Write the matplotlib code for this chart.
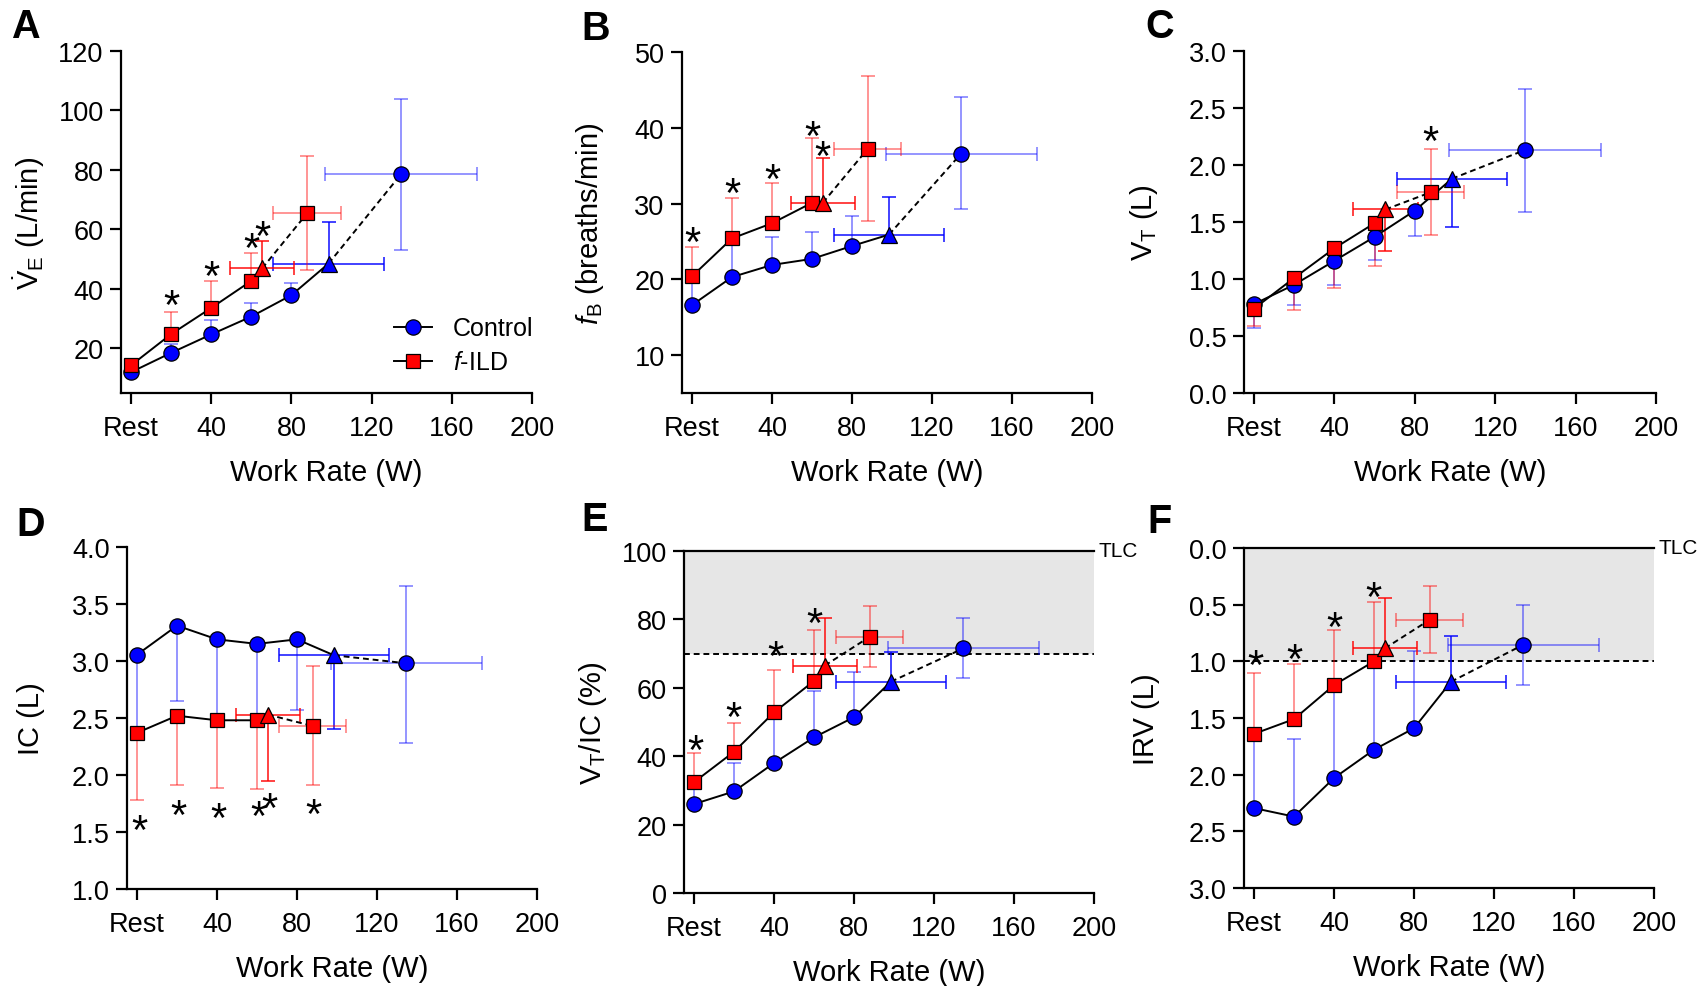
import matplotlib
matplotlib.use("Agg")
import numpy as np
import matplotlib.pyplot as plt
from matplotlib.lines import Line2D
from matplotlib.ticker import FormatStrFormatter

plt.rcParams["font.family"] = ["Liberation Sans", "DejaVu Sans"]
plt.rcParams["mathtext.fontset"] = "custom"
plt.rcParams["mathtext.rm"] = "Liberation Sans"
plt.rcParams["mathtext.it"] = "Liberation Sans:italic"

BLUE = "#0000ff"
RED = "#ff0000"

# work rate positions (W), Rest = 0
ctrl_x = [0, 20, 40, 60, 80]
ild_x = [0, 20, 40, 60]
ctrl_tri_x, ctrl_tri_xerr = 98.5, 27.5
ctrl_peak_x, ctrl_peak_xerr = 134.6, 37.8
ild_tri_x, ild_tri_xerr = 65.4, 16.0
ild_peak_x, ild_peak_xerr = 87.8, 16.9

xtick_vals = [0, 40, 80, 120, 160, 200]
xtick_labels = ["Rest", "40", "80", "120", "160", "200"]

# each series: values, error-bar end (one sided), iso-time triangle (value, end),
# peak (value, low, high)
# A - VE
ve_ctrl = [12.0, 18.5, 24.7, 30.7, 37.9]
ve_ctrl_cap = [13.5, 21.5, 29.5, 35.2, 42.0]
ve_ctrl_tri = (48.5, 62.6)
ve_ctrl_peak = (78.5, 53.1, 103.8)
ve_ild = [14.3, 24.8, 33.6, 42.7]
ve_ild_cap = [16.0, 32.4, 42.5, 52.1]
ve_ild_tri = (46.9, 56.0)
ve_ild_peak = (65.4, 46.2, 84.6)
ve_star_x = [20, 40, 60, 65.4]
ve_star_y = [38.2, 47.8, 57.3, 61.5]

# B - fB
fb_ctrl = [16.6, 20.3, 21.9, 22.7, 24.4]
fb_ctrl_cap = [20.0, 24.5, 25.6, 26.3, 28.4]
fb_ctrl_tri = (25.9, 30.8)
fb_ctrl_peak = (36.6, 29.3, 44.1)
fb_ild = [20.4, 25.4, 27.4, 30.1]
fb_ild_cap = [24.3, 30.7, 32.7, 38.6]
fb_ild_tri = (30.1, 36.0)
fb_ild_peak = (37.2, 27.7, 46.8)
fb_star_x = [0, 20, 40, 60, 65.4]
fb_star_y = [26.3, 32.8, 34.7, 40.3, 37.7]

# C - VT
vt_ctrl = [0.78, 0.95, 1.16, 1.37, 1.60]
vt_ctrl_cap = [0.57, 0.77, 0.95, 1.17, 1.38]
vt_ctrl_tri = (1.88, 1.46)
vt_ctrl_peak = (2.13, 1.59, 2.67)
vt_ild = [0.74, 1.01, 1.27, 1.49]
vt_ild_cap = [0.59, 0.73, 0.92, 1.11]
vt_ild_tri = (1.61, 1.25)
vt_ild_peak = (1.76, 1.39, 2.14)
vt_star_x = [87.8]
vt_star_y = [2.30]

# D - IC
ic_ctrl = [3.055, 3.31, 3.19, 3.15, 3.19]
ic_ctrl_cap = [2.40, 2.645, 2.50, 2.50, 2.57]
ic_ctrl_tri = (3.05, 2.405)
ic_ctrl_peak = (2.98, 2.28, 3.66)
ic_ild = [2.37, 2.52, 2.48, 2.48]
ic_ild_cap = [1.785, 1.91, 1.89, 1.88]
ic_ild_tri = (2.53, 1.95)
ic_ild_peak = (2.43, 1.91, 2.96)
ic_star_x = [1, 20.6, 40.6, 60.6, 66, 88.3]
ic_star_y = [1.615, 1.745, 1.72, 1.73, 1.80, 1.75]

# E - VT/IC
ratio_ctrl = [26.0, 29.7, 38.0, 45.5, 51.4]
ratio_ctrl_cap = [31.0, 38.0, 51.0, 59.2, 64.7]
ratio_ctrl_tri = (61.8, 70.6)
ratio_ctrl_peak = (71.5, 62.8, 80.4)
ratio_ild = [32.4, 41.3, 52.8, 62.0]
ratio_ild_cap = [40.8, 49.7, 65.3, 77.0]
ratio_ild_tri = (66.5, 80.3)
ratio_ild_peak = (74.9, 66.1, 83.8)
ratio_star_x = [0.7, 19.8, 40.8, 60]
ratio_star_y = [45.0, 54.6, 72.3, 82.1]

# F - IRV
irv_ctrl = [2.295, 2.37, 2.03, 1.78, 1.59]
irv_ctrl_cap = [1.66, 1.685, 1.25, 1.02, 0.913]
irv_ctrl_tri = (1.18, 0.775)
irv_ctrl_peak = (0.854, 0.50, 1.206)
irv_ild = [1.64, 1.51, 1.21, 1.00]
irv_ild_cap = [1.10, 1.02, 0.72, 0.475]
irv_ild_tri = (0.886, 0.44)
irv_ild_peak = (0.634, 0.335, 0.93)
irv_star_x = [0.5, 20, 40, 59.7]
irv_star_y = [0.94, 0.886, 0.60, 0.335]

LABEL_FS = 21
TICK_FS = 19.5


def vbar(ax, x, y0, y1, color, alpha):
    ax.vlines(x, y0, y1, color=color, alpha=alpha, lw=1.3, zorder=1)
    ax.plot(np.atleast_1d(x), np.atleast_1d(y1), ls="none", marker="_", ms=9.5,
            mew=1.3, color=color, alpha=alpha, zorder=1)


def hbar(ax, x, xe, y, color, alpha):
    ax.hlines(y, x - xe, x + xe, color=color, alpha=alpha, lw=1.3, zorder=1)
    ax.plot([x - xe, x + xe], [y, y], ls="none", marker="|", ms=9.5,
            mew=1.3, color=color, alpha=alpha, zorder=1)


def series(ax, xs, ys, caps, tri, tri_x, tri_xe, peak, peak_x, peak_xe,
           color, marker, ms, z):
    vbar(ax, xs, ys, caps, color, 0.45)
    vbar(ax, tri_x, tri[0], tri[1], color, 0.8)
    hbar(ax, tri_x, tri_xe, tri[0], color, 0.8)
    vbar(ax, peak_x, peak[0], peak[1], color, 0.45)
    vbar(ax, peak_x, peak[0], peak[2], color, 0.45)
    hbar(ax, peak_x, peak_xe, peak[0], color, 0.45)
    ax.plot(list(xs) + [tri_x], list(ys) + [tri[0]], color="k", lw=1.4, zorder=z)
    ax.plot([tri_x, peak_x], [tri[0], peak[0]], color="k", lw=1.4,
            dashes=(3, 2), zorder=z)
    ax.plot(xs, ys, ls="none", marker=marker, ms=ms, mfc=color, mec="k",
            mew=0.9, zorder=z + 1)
    ax.plot([tri_x], [tri[0]], ls="none", marker="^", ms=11.5, mfc=color,
            mec="k", mew=0.9, zorder=z + 1)
    ax.plot([peak_x], [peak[0]], ls="none", marker=marker, ms=ms, mfc=color,
            mec="k", mew=0.9, zorder=z + 1)


def panel(ax, c, c_cap, c_tri, c_peak, i, i_cap, i_tri, i_peak, sx, sy):
    series(ax, ctrl_x, c, c_cap, c_tri, ctrl_tri_x, ctrl_tri_xerr,
           c_peak, ctrl_peak_x, ctrl_peak_xerr, BLUE, "o", 11, 2)
    series(ax, ild_x, i, i_cap, i_tri, ild_tri_x, ild_tri_xerr,
           i_peak, ild_peak_x, ild_peak_xerr, RED, "s", 10.5, 4)
    for x, y in zip(sx, sy):
        ax.annotate("*", (x, y), xytext=(0, -17), textcoords="offset points",
                    ha="center", va="baseline", fontsize=30, zorder=6)
    ax.set_xlim(-5, 200)
    ax.set_xticks(xtick_vals)
    ax.set_xticklabels(xtick_labels)
    ax.set_xlabel("Work Rate (W)", fontsize=LABEL_FS, labelpad=12)
    for s in ("top", "right"):
        ax.spines[s].set_visible(False)
    for s in ("left", "bottom"):
        ax.spines[s].set_linewidth(1.6)
    ax.tick_params(axis="both", length=8, width=1.6, labelsize=TICK_FS)
    ax.tick_params(axis="x", pad=8)
    ax.tick_params(axis="y", pad=4.5)


fig = plt.figure(figsize=(17.07, 9.87), dpi=100)
W, H = 1707, 987


def add_axes(left, right, top, bottom):
    return fig.add_axes([left / W, 1 - bottom / H, (right - left) / W, (bottom - top) / H])


axA = add_axes(121, 532, 52, 394)
axB = add_axes(682, 1092, 53, 394)
axC = add_axes(1244, 1656, 52, 394)
axD = add_axes(127, 537, 548, 890)
axE = add_axes(684, 1094, 552, 894)
axF = add_axes(1244, 1654, 549, 889)

# A
panel(axA, ve_ctrl, ve_ctrl_cap, ve_ctrl_tri, ve_ctrl_peak,
      ve_ild, ve_ild_cap, ve_ild_tri, ve_ild_peak, ve_star_x, ve_star_y)
axA.set_ylim(5, 120)
axA.set_yticks([20, 40, 60, 80, 100, 120])
axA.set_ylabel(r"$\dot{\mathrm{V}}_\mathrm{E}$ (L/min)", fontsize=LABEL_FS)
axA.yaxis.set_label_coords(-0.18, 0.5)
handles = [
    Line2D([], [], color="k", lw=1.4, marker="o", ms=11, mfc=BLUE, mec="k", mew=0.9),
    Line2D([], [], color="k", lw=1.4, marker="s", ms=10.5, mfc=RED, mec="k", mew=0.9),
]
axA.legend(handles, ["Control", r"$\mathit{f}$-ILD"], loc="lower left",
           bbox_to_anchor=(0.64, 0.025), borderaxespad=0, frameon=False,
           fontsize=18, handlelength=1.5, handletextpad=0.85, labelspacing=0.4)

# B
panel(axB, fb_ctrl, fb_ctrl_cap, fb_ctrl_tri, fb_ctrl_peak,
      fb_ild, fb_ild_cap, fb_ild_tri, fb_ild_peak, fb_star_x, fb_star_y)
axB.set_ylim(5, 50)
axB.set_yticks([10, 20, 30, 40, 50])
axB.set_ylabel(r"$\mathit{f}_\mathrm{B}$ (breaths/min)", fontsize=LABEL_FS)
axB.yaxis.set_label_coords(-0.186, 0.5)

# C
panel(axC, vt_ctrl, vt_ctrl_cap, vt_ctrl_tri, vt_ctrl_peak,
      vt_ild, vt_ild_cap, vt_ild_tri, vt_ild_peak, vt_star_x, vt_star_y)
axC.set_ylim(0, 3)
axC.set_yticks(np.arange(0, 3.01, 0.5))
axC.yaxis.set_major_formatter(FormatStrFormatter("%.1f"))
axC.set_ylabel(r"V$_\mathrm{T}$ (L)", fontsize=LABEL_FS)
axC.yaxis.set_label_coords(-0.204, 0.5)

# D
panel(axD, ic_ctrl, ic_ctrl_cap, ic_ctrl_tri, ic_ctrl_peak,
      ic_ild, ic_ild_cap, ic_ild_tri, ic_ild_peak, ic_star_x, ic_star_y)
axD.set_ylim(1, 4)
axD.set_yticks(np.arange(1, 4.01, 0.5))
axD.yaxis.set_major_formatter(FormatStrFormatter("%.1f"))
axD.set_ylabel("IC (L)", fontsize=LABEL_FS)
axD.yaxis.set_label_coords(-0.199, 0.5)

# E
panel(axE, ratio_ctrl, ratio_ctrl_cap, ratio_ctrl_tri, ratio_ctrl_peak,
      ratio_ild, ratio_ild_cap, ratio_ild_tri, ratio_ild_peak, ratio_star_x, ratio_star_y)
axE.set_ylim(0, 100)
axE.set_yticks([0, 20, 40, 60, 80, 100])
axE.axhspan(70, 100, color="#e6e6e6", zorder=0, lw=0)
axE.axhline(70, color="k", lw=1.4, dashes=(3, 2), zorder=0.5)
axE.axhline(100, color="k", lw=1.6, clip_on=False, zorder=0.5)
axE.text(1.01, 1.0, "TLC", transform=axE.transAxes, ha="left", va="center", fontsize=15)
axE.set_ylabel(r"V$_\mathrm{T}$/IC (%)", fontsize=LABEL_FS)
axE.yaxis.set_label_coords(-0.184, 0.5)

# F
panel(axF, irv_ctrl, irv_ctrl_cap, irv_ctrl_tri, irv_ctrl_peak,
      irv_ild, irv_ild_cap, irv_ild_tri, irv_ild_peak, irv_star_x, irv_star_y)
axF.set_ylim(3, 0)
axF.set_yticks(np.arange(0, 3.01, 0.5))
axF.yaxis.set_major_formatter(FormatStrFormatter("%.1f"))
axF.axhspan(0, 1.0, color="#e6e6e6", zorder=0, lw=0)
axF.axhline(1.0, color="k", lw=1.4, dashes=(3, 2), zorder=0.5)
axF.axhline(0, color="k", lw=1.6, clip_on=False, zorder=0.5)
axF.text(1.01, 1.0, "TLC", transform=axF.transAxes, ha="left", va="center", fontsize=15)
axF.set_ylabel("IRV (L)", fontsize=LABEL_FS)
axF.yaxis.set_label_coords(-0.204, 0.5)

for letter, x, y in [("A", 11, 8), ("B", 581, 10), ("C", 1145, 8),
                     ("D", 16, 506), ("E", 581, 501), ("F", 1147, 503)]:
    fig.text(x / W, 1 - y / H, letter, fontsize=28.5, fontweight="bold",
             ha="left", va="top")

fig.savefig("out.png", dpi=100)
